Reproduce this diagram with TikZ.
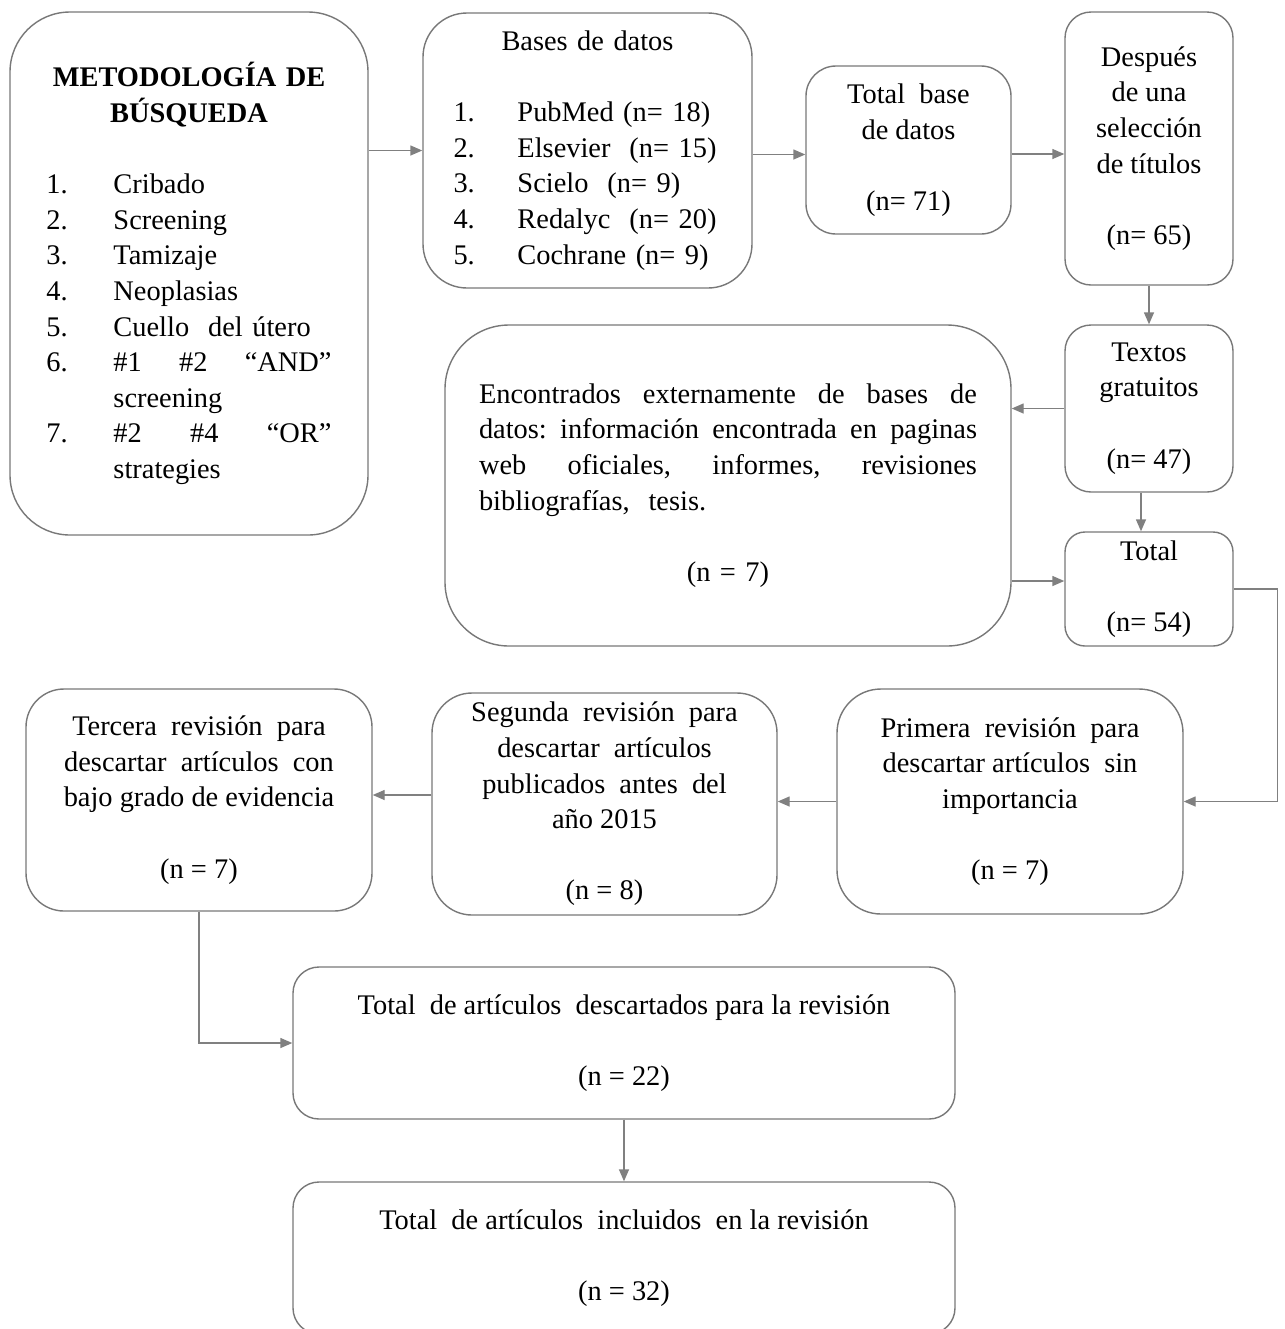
\documentclass[tikz,border=0pt]{standalone}
\usepackage{fontspec}
\setmainfont{Liberation Serif}
\usetikzlibrary{arrows.meta,calc}
\definecolor{lncol}{rgb}{0.47,0.47,0.47}
\definecolor{arcol}{rgb}{0.5,0.5,0.5}
\tikzset{
  box/.style={draw=lncol, line width=0.7pt, fill=white, inner sep=0pt,
    font=\fontsize{14.2}{17.8}\selectfont},
  arr/.style={draw=arcol, line width=0.7pt, -{Triangle[length=6pt,width=5pt]}},
  ln/.style={draw=arcol, line width=0.7pt}
}
\newcommand\jline[1]{\hbox to 249pt{#1}}
\begin{document}
\begin{tikzpicture}[x=0.5pt,y=-0.5pt]
\fill[white] (0,0) rectangle (1285,1329);
\useasboundingbox (0,0) rectangle (1285,1329);

% Box 1
\node[box, rounded corners=30pt, minimum width=179pt, minimum height=261.5pt, text width=142.5pt]
  (met) at (189,273.5) {\parindent=0pt
  {\centering\bfseries METODOLOGÍA DE\\BÚSQUEDA\par}
  \vspace{17.8pt}
  \makebox[33.5pt][l]{1.}Cribado\\
  \makebox[33.5pt][l]{2.}Screening\\
  \makebox[33.5pt][l]{3.}Tamizaje\\
  \makebox[33.5pt][l]{4.}Neoplasias\\
  \makebox[33.5pt][l]{5.}Cuello\ \ del útero\\
  \makebox[33.5pt][l]{6.}\#1\hfill\#2\hfill“AND”\\
  \hspace*{33.5pt}screening\\
  \makebox[33.5pt][l]{7.}\#2\hfill\#4\hfill“OR”\\
  \hspace*{33.5pt}strategies\par};

% Box 2
\node[box, rounded corners=22pt, minimum width=164.5pt, minimum height=137.5pt, text width=134pt]
  (bd) at (587.5,150.5) {\parindent=0pt\raggedright
  {\centering Bases de datos\par}
  \vspace{17.8pt}
  \mbox{\makebox[32pt][l]{1.}PubMed (n= 18)}\\
  \mbox{\makebox[32pt][l]{2.}Elsevier\ \ (n= 15)}\\
  \mbox{\makebox[32pt][l]{3.}Scielo\ \ (n= 9)}\\
  \mbox{\makebox[32pt][l]{4.}Redalyc\ \ (n= 20)}\\
  \mbox{\makebox[32pt][l]{5.}Cochrane (n= 9)}\par};

% Box 3
\node[box, rounded corners=15pt, minimum width=102.5pt, minimum height=84pt, align=center]
  (tb) at (908.5,150) {Total\ \ base\\de datos\\[17.8pt](n= 71)};

% Box 4
\node[box, rounded corners=13pt, minimum width=84pt, minimum height=136.5pt, align=center]
  (des) at (1149,148.5) {Después\\de una\\selección\\de títulos\\[17.8pt](n= 65)};

% Box 5
\node[box, rounded corners=13pt, minimum width=84pt, minimum height=83.5pt, align=center]
  (tex) at (1149,408.5) {Textos\\gratuitos\\[17.8pt](n= 47)};

% Box 6
\node[box, rounded corners=32pt, minimum width=283pt, minimum height=160.5pt, text width=249pt]
  (enc) at (728,485.5) {\parindent=0pt
  \jline{Encontrados\hfil externamente\hfil de\hfil bases\hfil de}
  \jline{datos:\hfil información\hfil encontrada\hfil en\hfil paginas}
  \jline{web\hfil oficiales,\hfil informes,\hfil revisiones}
  bibliografías,\ \ tesis.\par
  \vspace{17.8pt}
  {\centering (n = 7)\par}};

% Box 7
\node[box, rounded corners=10pt, minimum width=84pt, minimum height=57pt, align=center]
  (tot) at (1149,589) {Total\\[17.8pt](n= 54)};

% Box 8
\node[box, rounded corners=22pt, minimum width=173pt, minimum height=112.5pt, align=center]
  (pri) at (1010,801.5) {Primera\ \ revisión\ \ para\\descartar artículos\ \ sin\\importancia\\[17.8pt](n = 7)};

% Box 9
\node[box, rounded corners=20pt, minimum width=172.5pt, minimum height=111pt, align=center]
  (seg) at (604.5,804) {Segunda\ \ revisión\ \ para\\descartar\ \ artículos\\publicados\ \ antes\ \ del\\año 2015\\[17.8pt](n = 8)};

% Box 10
\node[box, rounded corners=19pt, minimum width=173pt, minimum height=111pt, align=center]
  (ter) at (199,800) {Tercera\ \ revisión\ \ para\\descartar\ \ artículos\ \ con\\bajo grado de evidencia\\[17.8pt](n = 7)};

% Box 11
\node[box, rounded corners=13pt, minimum width=331pt, minimum height=76pt, align=center]
  (dsc) at (624,1043) {Total\ \ de artículos\ \ descartados para la revisión\\[17.8pt](n = 22)};

% Box 12
\node[box, rounded corners=13pt, minimum width=331pt, minimum height=76pt, align=center]
  (inc) at (624,1258) {Total\ \ de artículos\ \ incluidos\ \ en la revisión\\[17.8pt](n = 32)};

% Connectors
\draw[arr] (met.east |- bd.west) -- (bd.west);
\draw[arr] ($(bd.east)+(0,4)$) coordinate (a1) -- (a1 -| tb.west);
\draw[arr] ($(tb.east)+(0,4)$) coordinate (a2) -- (a2 -| des.west);
\draw[arr] (des.south) -- (tex.north);
\draw[arr] (tex.west) -- (tex.west -| enc.east);
\draw[arr] ($(tex.south)+(-8,0)$) coordinate (a3) -- (a3 |- tot.north);
\coordinate (a4) at ($(tot.west)+(0,-8)$);
\draw[arr] (a4 -| enc.east) -- (a4);
\draw[arr] (tot.east) -- ++(44,0) |- (pri.east);
\draw[arr] (pri.west) -- (pri.west -| seg.east);
\draw[arr] ($(seg.west)+(0,-9)$) coordinate (a5) -- (a5 -| ter.east);
\draw[arr] (ter.south) |- (dsc.west);
\draw[arr] (dsc.south) -- (inc.north);
\end{tikzpicture}
\end{document}
